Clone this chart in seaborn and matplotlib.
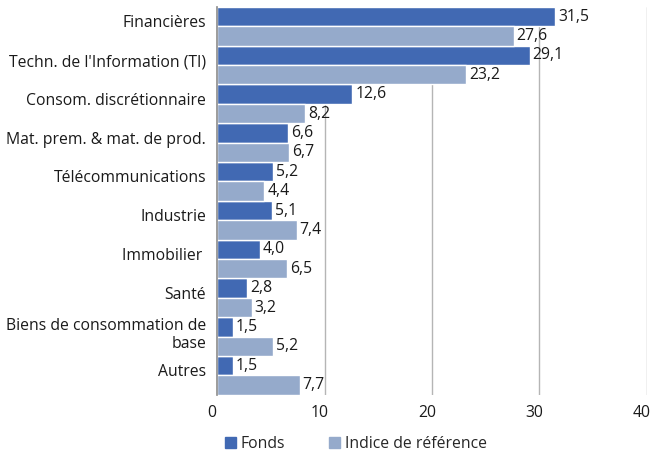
import pandas as pd
import seaborn as sns
import matplotlib.pyplot as plt
import matplotlib.transforms as mtransforms
from matplotlib.patches import Patch

# données du graphique
categories = ['Financières', "Techn. de l'Information (TI)", 'Consom. discrétionnaire',
              'Mat. prem. & mat. de prod.', 'Télécommunications', 'Industrie',
              'Immobilier ', 'Santé', 'Biens de consommation de\nbase', 'Autres']
fonds = [31.5, 29.1, 12.6, 6.6, 5.2, 5.1, 4.0, 2.8, 1.5, 1.5]
indice = [27.6, 23.2, 8.2, 6.7, 4.4, 7.4, 6.5, 3.2, 5.2, 7.7]
series = ['Fonds', 'Indice de référence']
colors = ['#4169B3', '#95AACB']
xticks = [0, 10, 20, 30, 40]

df = pd.DataFrame({
    'categorie': categories * 2,
    'valeur': fonds + indice,
    'serie': [series[0]] * len(fonds) + [series[1]] * len(indice),
})

sns.set_theme(style='white')
plt.rcParams['font.family'] = ['Open Sans', 'DejaVu Sans']
fs = 11.3

fig = plt.figure(figsize=(6.54, 4.57), dpi=100)
ax = fig.add_axes([0.332, 0.136, 0.657, 0.849])

sns.barplot(data=df, x='valeur', y='categorie', hue='serie', orient='h',
            palette=colors, saturation=1, width=1.0, edgecolor='white',
            linewidth=1, ax=ax, legend=False)

for cont in ax.containers:
    labels = [f'{v:.1f}'.replace('.', ',') for v in cont.datavalues]
    ax.bar_label(cont, labels=labels, padding=2, fontsize=fs, color='#1a1a1a')

ax.set_xlim(0, 40)
ax.set_xticks(xticks)
ax.set_ylim(len(categories) - 0.5, -0.5)
ax.set_xlabel('')
ax.set_ylabel('')
ax.grid(axis='x', color='#b5b5b5', linewidth=1)
ax.set_axisbelow(True)
for s in ['top', 'right', 'bottom']:
    ax.spines[s].set_visible(False)
ax.spines['left'].set_color('#909090')
ax.tick_params(axis='both', length=0, labelsize=fs, colors='#1a1a1a')
ax.tick_params(axis='x', pad=7)
ax.tick_params(axis='y', pad=8)

# petits décalages des étiquettes comme dans l'original
shift_x = mtransforms.ScaledTranslation(-5 / 100, 0, fig.dpi_scale_trans)
for lab in ax.get_xticklabels():
    lab.set_transform(lab.get_transform() + shift_x)
shift_y = mtransforms.ScaledTranslation(0, 5 / 100, fig.dpi_scale_trans)
for lab in ax.get_yticklabels():
    lab.set_transform(lab.get_transform() + shift_y)

handles = [Patch(color=c, label=s) for c, s in zip(colors, series)]
fig.legend(handles=handles, loc='lower left', bbox_to_anchor=(0.322, -0.02), ncol=2,
           frameon=False, fontsize=fs, handlelength=0.7, handleheight=0.7,
           handletextpad=0.3, columnspacing=2.8)

fig.savefig('out.png', dpi=100)
